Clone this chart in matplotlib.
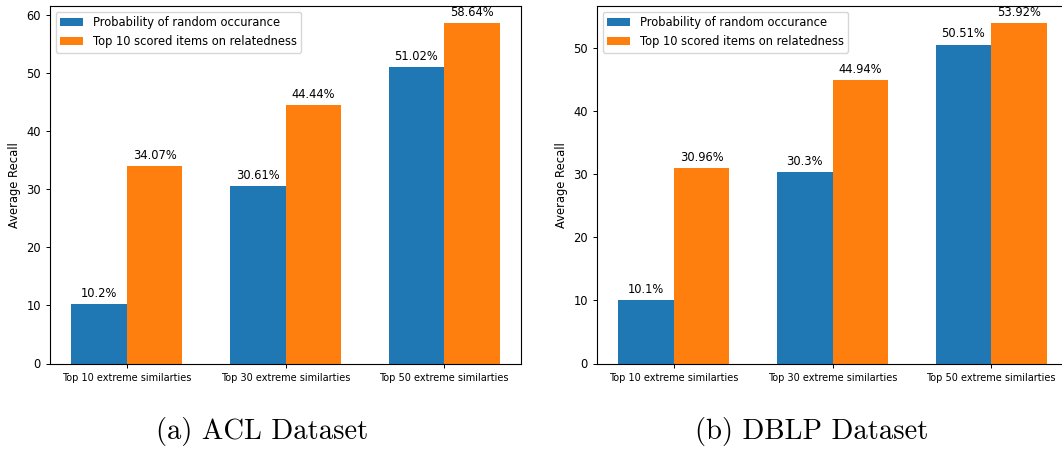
import numpy as np
import matplotlib
matplotlib.use("Agg")
import matplotlib.pyplot as plt

##### data ########
groups = ["Top 10 extreme similarties", "Top 30 extreme similarties", "Top 50 extreme similarties"]
series_names = ["Probability of random occurance", "Top 10 scored items on relatedness"]

acl_random = [10.2, 30.61, 51.02]
acl_top10 = [34.07, 44.44, 58.64]
dblp_random = [10.1, 30.3, 50.51]
dblp_top10 = [30.96, 44.94, 53.92]

captions = ["(a) ACL Dataset", "(b) DBLP Dataset"]

width = 0.35
x = np.arange(len(groups))
fs = 8.3

fig = plt.figure(figsize=(10.62, 4.49), dpi=100)
ax1 = fig.add_axes([50 / 1062, 1 - 363.5 / 449, 471 / 1062, 357.5 / 449])
ax2 = fig.add_axes([597 / 1062, 1 - 363.5 / 449, 471 / 1062, 357.5 / 449])


def autolabel(ax, rects):
    # value on top of each bar
    for r in rects:
        h = r.get_height()
        ax.annotate("{}%".format(h), xy=(r.get_x() + r.get_width() / 2, h),
                    xytext=(0, 3), textcoords="offset points",
                    ha="center", va="bottom", fontsize=fs)


for ax, a, b in [(ax1, acl_random, acl_top10), (ax2, dblp_random, dblp_top10)]:
    r1 = ax.bar(x - width / 2, a, width, label=series_names[0], color="#1f77b4")
    r2 = ax.bar(x + width / 2, b, width, label=series_names[1], color="#ff7f0e")
    ax.set_ylabel("Average Recall", fontsize=fs)
    ax.set_xticks(x)
    ax.set_xticklabels(groups, fontsize=7.0)
    ax.tick_params(axis="y", labelsize=fs, length=3, width=0.7)
    ax.tick_params(axis="x", length=3, width=0.7)
    for s in ax.spines.values():
        s.set_linewidth(0.8)
    ax.legend(loc="upper left", fontsize=fs)
    autolabel(ax, r1)
    autolabel(ax, r2)

fig.text(262 / 1062, 1 - 432 / 449, captions[0], fontname="cmr10", fontsize=20.6,
         ha="center", va="center")
fig.text(812 / 1062, 1 - 432 / 449, captions[1], fontname="cmr10", fontsize=20.6,
         ha="center", va="center")

fig.savefig("out.png", dpi=100)
